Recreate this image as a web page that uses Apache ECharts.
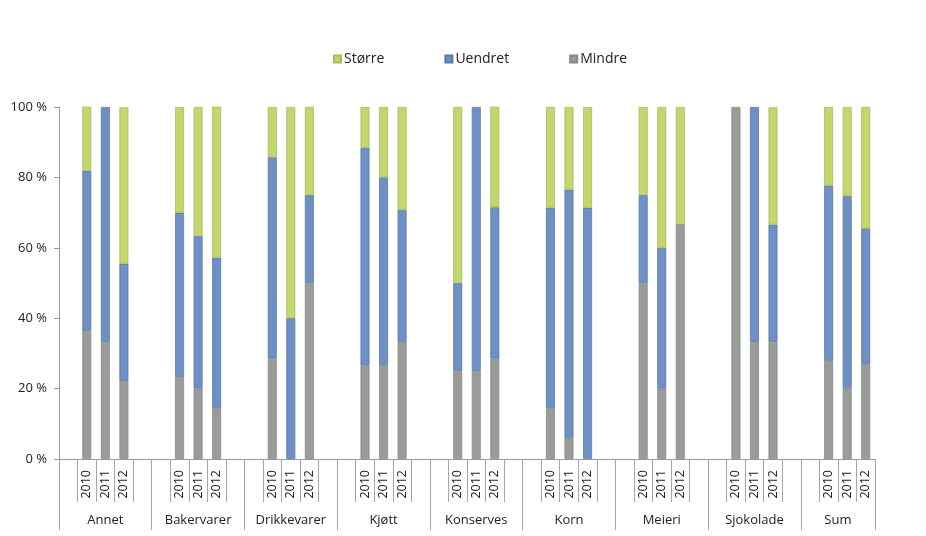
<!DOCTYPE html>
<html>
<head>
<meta charset="utf-8">
<script src="https://cdn.jsdelivr.net/npm/echarts@6/dist/echarts.min.js"></script>
<style>
html,body{margin:0;padding:0;background:#fff;}
#chart{width:926px;height:536px;}
</style>
</head>
<body>
<div id="chart"></div>
<script>
// ---- data ----
const groups = ['Annet','Bakervarer','Drikkevarer','Kjøtt','Konserves','Korn','Meieri','Sjokolade','Sum'];
const years = ['2010','2011','2012'];
const seriesNames = ['Større','Uendret','Mindre'];
// values per group, per year (percent)
const mindre  = [36.4,33.3,22.2, 23.3,20.0,14.3, 28.6,0,50.0, 26.6,26.7,33.3, 25.0,25.0,28.6, 14.3,5.9,0, 50.0,20.0,66.7, 100,33.3,33.3, 28.1,20.3,27.0];
const uendret = [45.5,66.7,33.3, 46.7,43.3,42.9, 57.1,40.0,25.0, 61.8,53.3,37.5, 25.0,75.0,42.9, 57.1,70.6,71.4, 25.0,40.0,0, 0,66.7,33.3, 49.6,54.4,38.5];
const storre  = [18.2,0,44.4, 30.0,36.7,42.9, 14.3,60.0,25.0, 11.6,20.0,29.2, 50.0,0,28.6, 28.6,23.5,28.6, 25.0,40.0,33.3, 0,0,33.3, 22.3,25.3,34.5];

// ---- build slot layout: blank, 3 years, blank (last group without trailing blank) ----
const cats = [];
const slotIndex = []; // index into value arrays or -1
groups.forEach((g, gi) => {
  cats.push(''); slotIndex.push(-1);
  years.forEach((y, yi) => { cats.push(y); slotIndex.push(gi * 3 + yi); });
  if (gi < groups.length - 1) { cats.push(' '); slotIndex.push(-1); }
});
const pick = arr => slotIndex.map(i => (i < 0 || !arr[i]) ? null : arr[i]);

// secondary (group) axis: half-slot positions, boundaryGap false
const nHalf = cats.length * 2;
const groupCats = [];
const groupLabelIdx = {};
const groupTickIdx = {};
let pos = 0;
groups.forEach((g, gi) => {
  const slots = gi < groups.length - 1 ? 5 : 4;
  groupTickIdx[pos * 2] = true;
  groupLabelIdx[pos * 2 + slots] = g;
  pos += slots;
});
groupTickIdx[pos * 2] = true;
for (let i = 0; i <= nHalf; i++) groupCats.push(groupLabelIdx[i] || '');

const colors = { 'Større': '#c3d66f', 'Uendret': '#6f90c2', 'Mindre': '#999c98' };
const borders = { 'Større': '#a9bb5c', 'Uendret': '#5b7aa8', 'Mindre': '#878a86' };
const dataMap = { 'Større': storre, 'Uendret': uendret, 'Mindre': mindre };

const font = 'Open Sans, Noto Sans, sans-serif';
const chart = echarts.init(document.getElementById('chart'));
chart.setOption({
  animation: false,
  backgroundColor: '#fff',
  legend: {
    data: seriesNames,
    top: 47,
    left: 328,
    icon: 'rect',
    itemWidth: 7,
    itemHeight: 7,
    itemGap: 60,
    textStyle: { fontFamily: font, fontSize: 14, color: '#222', padding: [0, 0, 0, -2] }
  },
  grid: { left: 59, right: 51, top: 107, bottom: 77, containLabel: false },
  xAxis: [
    {
      type: 'category',
      data: cats,
      boundaryGap: true,
      axisLine: { show: true, lineStyle: { color: '#9a9a9a', width: 1 } },
      axisTick: { show: true, length: 43, interval: 0, lineStyle: { color: '#a6a6a6' } },
      axisLabel: {
        interval: 0, rotate: 90, margin: 11, hideOverlap: false,
        fontFamily: font, fontSize: 12.5, color: '#222',
        formatter: v => v.trim()
      }
    },
    {
      type: 'category',
      data: groupCats,
      boundaryGap: false,
      position: 'bottom',
      axisLine: { show: false },
      axisTick: {
        show: true, length: 71,
        interval: (i) => !!groupTickIdx[i],
        lineStyle: { color: '#a6a6a6' }
      },
      axisLabel: {
        interval: (i) => !!groupLabelIdx[i],
        margin: 55, hideOverlap: false,
        fontFamily: font, fontSize: 13, color: '#222'
      }
    }
  ],
  yAxis: {
    type: 'value',
    min: 0, max: 100, interval: 20,
    axisLine: { show: true, lineStyle: { color: '#9a9a9a' } },
    axisTick: { show: true, length: 5, lineStyle: { color: '#9a9a9a' } },
    splitLine: { show: false },
    axisLabel: { formatter: '{value} %', fontFamily: font, fontSize: 13, color: '#222', margin: 12 }
  },
  series: ['Mindre', 'Uendret', 'Større'].map(n => ({
    name: n,
    type: 'bar',
    stack: 'total',
    xAxisIndex: 0,
    barWidth: 9,
    itemStyle: { color: colors[n], borderColor: borders[n], borderWidth: 0.8 },
    data: pick(dataMap[n])
  }))
});
</script>
</body>
</html>
